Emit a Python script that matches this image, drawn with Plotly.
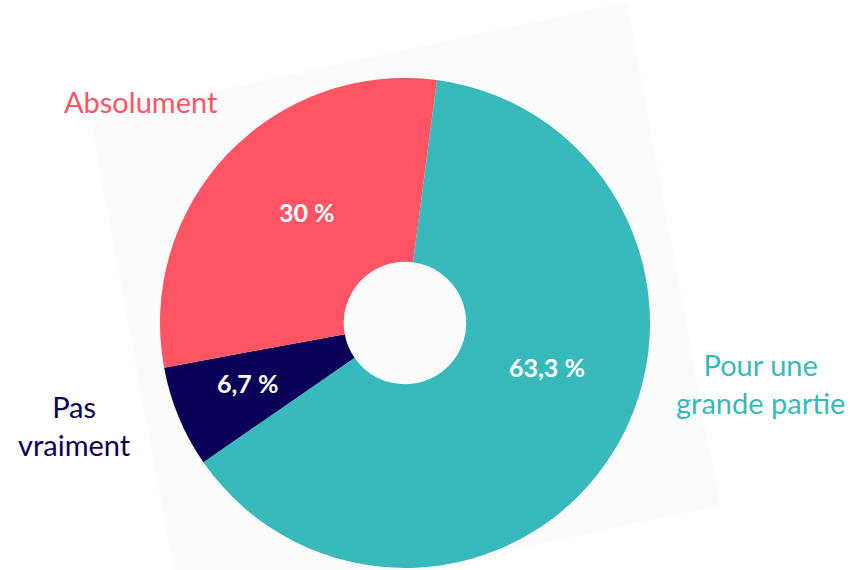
import plotly.graph_objects as go

categories = ["Pour une grande partie", "Pas vraiment", "Absolument"]
label_text = ["Pour une<br>grande partie", "Pas<br>vraiment", "Absolument"]
values = [63.3, 6.7, 30.0]
value_text = ["63,3 %", "6,7 %", "30 %"]
colors = ["#38BABC", "#0B0057", "#FF5464"]

W, H = 858, 570

fig = go.Figure()
fig.add_trace(go.Pie(
    labels=categories,
    values=values,
    text=value_text,
    textinfo="none",
    marker=dict(colors=colors, line=dict(width=0)),
    hole=0.25,
    sort=False,
    direction="clockwise",
    rotation=7.5,
    showlegend=False,
    hoverinfo="label+text",
    domain=dict(x=[160 / W, 650 / W], y=[2 / H, 492 / H]),
))

def px(x, y):
    return f"{x / W:.4f},{1 - y / H:.4f}"

# faint rotated background card
bg = [(90, 118), (627, 2), (720, 505), (183, 621)]
path = "M " + " L ".join(px(x, y) for x, y in bg) + " Z"
fig.add_shape(type="path", path=path, xref="paper", yref="paper",
              fillcolor="#fbfbfc", line=dict(width=0), layer="below")

# value labels inside slices
value_pos = [(547, 367), (247, 383), (307, 212)]
for t, (x, y) in zip(value_text, value_pos):
    fig.add_annotation(text=t, x=x / W, y=1 - y / H, xref="paper", yref="paper",
                       showarrow=False, xanchor="center", yanchor="middle",
                       font=dict(family="Lato", size=25, color="white", weight="bold"))

# category labels outside
label_pos = [(760, 383), (74, 425), (141, 101)]
for t, c, (x, y) in zip(label_text, colors, label_pos):
    fig.add_annotation(text=t, x=x / W, y=1 - y / H, xref="paper", yref="paper",
                       showarrow=False, xanchor="center", yanchor="middle",
                       font=dict(family="Lato", size=29, color=c), align="center")

fig.update_layout(
    width=W, height=H,
    margin=dict(l=0, r=0, t=0, b=0),
    paper_bgcolor="white",
    plot_bgcolor="white",
)

fig.write_html("out.html")
